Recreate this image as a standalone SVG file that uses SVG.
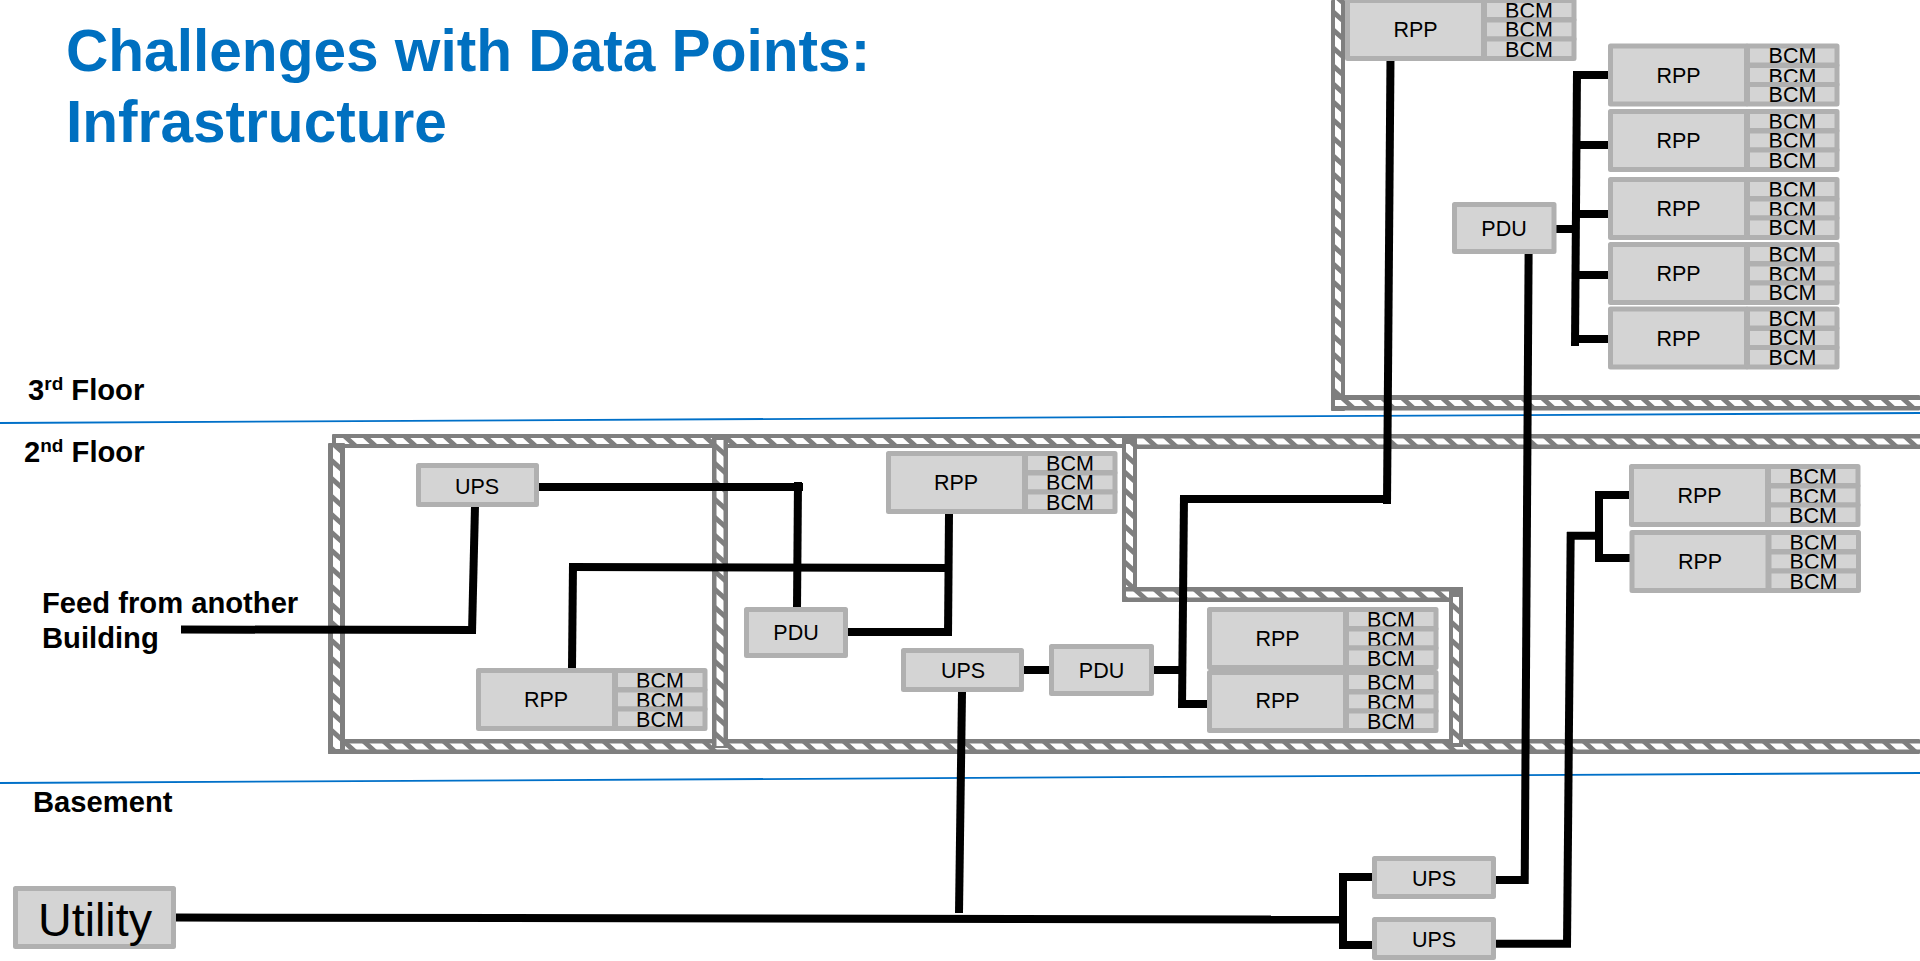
<svg xmlns="http://www.w3.org/2000/svg" width="1920" height="961" viewBox="0 0 1920 961">
<style>
text{font-family:"Liberation Sans",Arial,sans-serif;fill:#000}
.t{font-size:21.500px;text-anchor:middle}
.b{fill:#d4d4d4;stroke:#b0b0b0;stroke-width:5;stroke-linejoin:round}
.w{fill:#7f7f7f}
.s{fill:url(#stripes)}
.h{font-size:29.200px;font-weight:bold}
.sup{font-size:19px}
.title{font-size:58.600px;font-weight:bold;fill:#0070c0}
.floor{stroke:#0070c8;stroke-width:1.800;fill:none}
#connectors line{stroke:#000;stroke-width:8}
</style>
<defs>
<pattern id="stripes" patternUnits="userSpaceOnUse" width="20" height="18">
<rect width="20" height="18" fill="#fff"/>
<path d="M-5 -4.500L25 22.500M-5 13.500L5 22.500M15 -4.500L25 4.500" stroke="#7f7f7f" stroke-width="5" fill="none"/>
</pattern>
</defs>
<rect width="1920" height="961" fill="#fff"/>
<g id="floor-lines">
<line class="floor" x1="0" y1="423" x2="1920" y2="413"/>
<line class="floor" x1="0" y1="783" x2="1920" y2="773"/>
</g>
<g id="walls">
<rect class="w" x="332" y="434" width="797" height="14" rx="1"/><rect class="s" x="336" y="438" width="789" height="6"/>
<rect class="w" x="1122" y="434" width="798" height="15"/><rect class="s" x="1137" y="438.500" width="783" height="6"/>
<rect class="w" x="328" y="739" width="1592" height="15" rx="1"/><rect class="s" x="332" y="743.500" width="1588" height="6"/>
<rect class="w" x="328" y="443" width="17" height="311" rx="1"/><rect class="s" x="333" y="447" width="7" height="302"/>
<rect class="w" x="712" y="438" width="16" height="310"/><rect class="s" x="716.500" y="440" width="7" height="306"/>
<rect class="w" x="1122" y="438" width="15" height="164" rx="1"/><rect class="s" x="1126" y="444" width="7" height="154"/>
<rect class="w" x="1122" y="587" width="341" height="15" rx="1"/><rect class="s" x="1126" y="591.500" width="333" height="6"/>
<rect class="w" x="1449" y="587" width="14" height="160"/><rect class="s" x="1453" y="597" width="6" height="146"/>
<rect class="w" x="1331" y="0" width="14" height="411" rx="1"/><rect class="s" x="1335" y="0" width="6" height="407"/>
<rect class="w" x="1331" y="395" width="589" height="15.500" rx="1"/><rect class="s" x="1335" y="400" width="585" height="6"/>
</g>
<g id="connectors">
<line x1="181" y1="629.500" x2="476" y2="630"/>
<line x1="475" y1="506" x2="472" y2="633"/>
<line x1="537" y1="487" x2="803" y2="487"/>
<line x1="798" y1="482" x2="797" y2="609"/>
<line x1="572" y1="668" x2="573" y2="563.500"/>
<line x1="569" y1="567" x2="952" y2="568"/>
<line x1="949" y1="514" x2="948" y2="636"/>
<line x1="848" y1="632" x2="952" y2="632"/>
<line x1="1022" y1="670" x2="1051" y2="670"/>
<line x1="962" y1="692" x2="959" y2="913"/>
<line x1="1154" y1="670" x2="1185" y2="670"/>
<line x1="1184" y1="495" x2="1182" y2="708"/>
<line x1="1180" y1="499" x2="1391" y2="499"/>
<line x1="1179" y1="704" x2="1209" y2="704"/>
<line x1="1390.500" y1="58" x2="1387" y2="504"/>
<line x1="1528.600" y1="254" x2="1524.700" y2="884"/>
<line x1="1495" y1="880" x2="1528" y2="880"/>
<line x1="1495" y1="943.700" x2="1571" y2="943.700"/>
<line x1="1567" y1="947" x2="1570.700" y2="532"/>
<line x1="1567" y1="535.700" x2="1600" y2="535.700"/>
<line x1="1599" y1="491" x2="1599" y2="562"/>
<line x1="1596" y1="495" x2="1634" y2="495"/>
<line x1="1596" y1="558" x2="1636" y2="558"/>
<line x1="174" y1="917.500" x2="1343" y2="919.500"/>
<line x1="1343" y1="873" x2="1343" y2="949"/>
<line x1="1340" y1="877" x2="1374" y2="877"/>
<line x1="1340" y1="945" x2="1376" y2="945"/>
<line x1="1577" y1="71" x2="1575" y2="346"/>
<line x1="1574" y1="75" x2="1610" y2="75"/>
<line x1="1575" y1="145" x2="1610" y2="145"/>
<line x1="1575" y1="214" x2="1610" y2="214"/>
<line x1="1575" y1="275" x2="1610" y2="275"/>
<line x1="1572" y1="339" x2="1610" y2="339"/>
<line x1="1556" y1="229" x2="1577" y2="229"/>
</g>
<g id="rpp-top" transform="translate(1345,-2)"><rect class="b" x="2.500" y="2.500" width="136" height="58"/><text class="t" x="70.500" y="39">RPP</text><rect class="b" x="139.500" y="2.500" width="89.500" height="19"/><text class="t" x="184" y="20">BCM</text><rect class="b" x="139.500" y="22" width="89.500" height="19"/><text class="t" x="184" y="38.500">BCM</text><rect class="b" x="139.500" y="41" width="89.500" height="19.500"/><text class="t" x="184" y="58.500">BCM</text></g>
<g id="rpp-stack-1" transform="translate(1608,43.500)"><rect class="b" x="2.500" y="2.500" width="136" height="58"/><text class="t" x="70.500" y="39">RPP</text><rect class="b" x="139.500" y="2.500" width="89.500" height="19"/><text class="t" x="184.500" y="19.500">BCM</text><rect class="b" x="139.500" y="22" width="89.500" height="19"/><text class="t" x="184.500" y="40">BCM</text><rect class="b" x="139.500" y="41" width="89.500" height="19.500"/><text class="t" x="184.500" y="58.500">BCM</text></g>
<g id="rpp-stack-2" transform="translate(1608,109)"><rect class="b" x="2.500" y="2.500" width="136" height="58"/><text class="t" x="70.500" y="39">RPP</text><rect class="b" x="139.500" y="2.500" width="89.500" height="19"/><text class="t" x="184.500" y="19.500">BCM</text><rect class="b" x="139.500" y="22" width="89.500" height="19"/><text class="t" x="184.500" y="39">BCM</text><rect class="b" x="139.500" y="41" width="89.500" height="19.500"/><text class="t" x="184.500" y="58.500">BCM</text></g>
<g id="rpp-stack-3" transform="translate(1608,177)"><rect class="b" x="2.500" y="2.500" width="136" height="58"/><text class="t" x="70.500" y="39">RPP</text><rect class="b" x="139.500" y="2.500" width="89.500" height="19"/><text class="t" x="184.500" y="19.500">BCM</text><rect class="b" x="139.500" y="22" width="89.500" height="19"/><text class="t" x="184.500" y="40">BCM</text><rect class="b" x="139.500" y="41" width="89.500" height="19.500"/><text class="t" x="184.500" y="58">BCM</text></g>
<g id="rpp-stack-4" transform="translate(1608,242)"><rect class="b" x="2.500" y="2.500" width="136" height="58"/><text class="t" x="70.500" y="39">RPP</text><rect class="b" x="139.500" y="2.500" width="89.500" height="19"/><text class="t" x="184.500" y="19.500">BCM</text><rect class="b" x="139.500" y="22" width="89.500" height="19"/><text class="t" x="184.500" y="40">BCM</text><rect class="b" x="139.500" y="41" width="89.500" height="19.500"/><text class="t" x="184.500" y="58">BCM</text></g>
<g id="rpp-stack-5" transform="translate(1608,306.500)"><rect class="b" x="2.500" y="2.500" width="136" height="58"/><text class="t" x="70.500" y="39">RPP</text><rect class="b" x="139.500" y="2.500" width="89.500" height="19"/><text class="t" x="184.500" y="19.500">BCM</text><rect class="b" x="139.500" y="22" width="89.500" height="19"/><text class="t" x="184.500" y="38">BCM</text><rect class="b" x="139.500" y="41" width="89.500" height="19.500"/><text class="t" x="184.500" y="58.500">BCM</text></g>
<g id="rpp-east-1" transform="translate(1629,464)"><rect class="b" x="2.500" y="2.500" width="136" height="58"/><text class="t" x="70.500" y="39">RPP</text><rect class="b" x="139.500" y="2.500" width="89.500" height="19"/><text class="t" x="184" y="19.500">BCM</text><rect class="b" x="139.500" y="22" width="89.500" height="19"/><text class="t" x="184" y="40">BCM</text><rect class="b" x="139.500" y="41" width="89.500" height="19.500"/><text class="t" x="184" y="58.500">BCM</text></g>
<g id="rpp-east-2" transform="translate(1629.500,530)"><rect class="b" x="2.500" y="2.500" width="136" height="58"/><text class="t" x="70.500" y="39">RPP</text><rect class="b" x="139.500" y="2.500" width="89.500" height="19"/><text class="t" x="184" y="19.500">BCM</text><rect class="b" x="139.500" y="22" width="89.500" height="19"/><text class="t" x="184" y="38.500">BCM</text><rect class="b" x="139.500" y="41" width="89.500" height="19.500"/><text class="t" x="184" y="58.500">BCM</text></g>
<g id="rpp-mid" transform="translate(886,451)"><rect class="b" x="2.500" y="2.500" width="136" height="58"/><text class="t" x="70" y="39">RPP</text><rect class="b" x="139.500" y="2.500" width="89.500" height="19"/><text class="t" x="184" y="19.500">BCM</text><rect class="b" x="139.500" y="22" width="89.500" height="19"/><text class="t" x="184" y="38.500">BCM</text><rect class="b" x="139.500" y="41" width="89.500" height="19.500"/><text class="t" x="184" y="58.500">BCM</text></g>
<g id="rpp-dual-1" transform="translate(1207,607)"><rect class="b" x="2.500" y="2.500" width="136" height="58"/><text class="t" x="70.500" y="39">RPP</text><rect class="b" x="139.500" y="2.500" width="89.500" height="19"/><text class="t" x="184" y="19.500">BCM</text><rect class="b" x="139.500" y="22" width="89.500" height="19"/><text class="t" x="184" y="40">BCM</text><rect class="b" x="139.500" y="41" width="89.500" height="19.500"/><text class="t" x="184" y="59">BCM</text></g>
<g id="rpp-dual-2" transform="translate(1207,670)"><rect class="b" x="2.500" y="2.500" width="136" height="58"/><text class="t" x="70.500" y="38">RPP</text><rect class="b" x="139.500" y="2.500" width="89.500" height="19"/><text class="t" x="184" y="19.500">BCM</text><rect class="b" x="139.500" y="22" width="89.500" height="19"/><text class="t" x="184" y="40">BCM</text><rect class="b" x="139.500" y="41" width="89.500" height="19.500"/><text class="t" x="184" y="58.500">BCM</text></g>
<g id="rpp-west" transform="translate(476,668)"><rect class="b" x="2.500" y="2.500" width="136" height="58"/><text class="t" x="70" y="39">RPP</text><rect class="b" x="139.500" y="2.500" width="89.500" height="19"/><text class="t" x="184" y="19.500">BCM</text><rect class="b" x="139.500" y="22" width="89.500" height="19"/><text class="t" x="184" y="40">BCM</text><rect class="b" x="139.500" y="41" width="89.500" height="19.500"/><text class="t" x="184" y="58.500">BCM</text></g>
<g id="ups-west"><rect class="b" x="418.500" y="465.500" width="118" height="39"/><text class="t" x="477" y="494">UPS</text></g>
<g id="pdu-west"><rect class="b" x="746.500" y="609.500" width="99" height="46"/><text class="t" x="796" y="640">PDU</text></g>
<g id="ups-mid"><rect class="b" x="903.500" y="650.500" width="118" height="39"/><text class="t" x="963" y="678">UPS</text></g>
<g id="pdu-mid"><rect class="b" x="1051.500" y="646.500" width="100" height="47"/><text class="t" x="1101.500" y="678">PDU</text></g>
<g id="pdu-top"><rect class="b" x="1454.500" y="204.500" width="99.500" height="47"/><text class="t" x="1504" y="235.500">PDU</text></g>
<g id="ups-base-1"><rect class="b" x="1374.500" y="858.500" width="119" height="38"/><text class="t" x="1434" y="885.500">UPS</text></g>
<g id="ups-base-2"><rect class="b" x="1374.500" y="919.500" width="119" height="38"/><text class="t" x="1434" y="947">UPS</text></g>
<g id="utility"><rect class="b" x="15.500" y="888.500" width="158" height="58"/><text x="95" y="936" font-size="46.700" text-anchor="middle">Utility</text></g>
<g id="labels">
<text class="title" x="66" y="71">Challenges with Data Points:</text>
<text class="title" x="66" y="142">Infrastructure</text>
<text class="h" x="28" y="400">3<tspan class="sup" dy="-10">rd</tspan><tspan dy="10"> Floor</tspan></text>
<text class="h" x="24" y="461.500">2<tspan class="sup" dy="-10">nd</tspan><tspan dy="10"> Floor</tspan></text>
<text class="h" x="42" y="613">Feed from another</text>
<text class="h" x="42" y="648">Building</text>
<text class="h" x="33" y="812">Basement</text>
</g>
</svg>
